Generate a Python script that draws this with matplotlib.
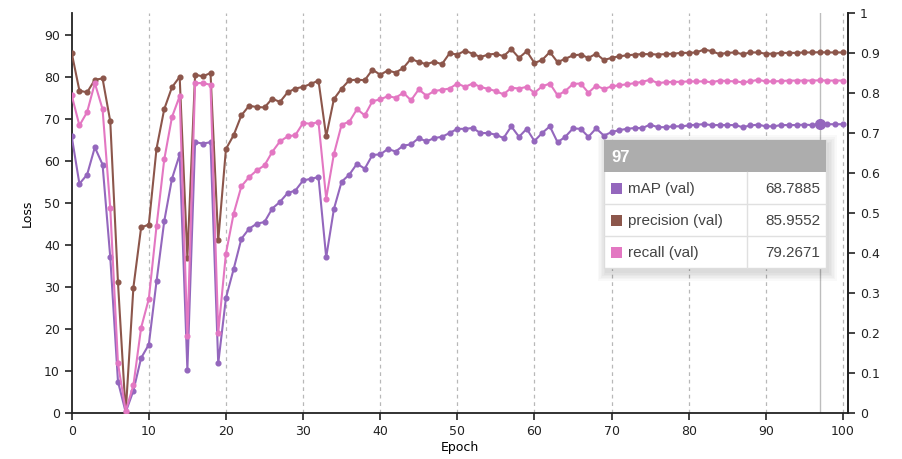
import matplotlib.pyplot as plt
from matplotlib.patches import Rectangle
import numpy as np

# values (epochs 0..100)
epochs = list(range(101))
map_val = [65.9, 54.6, 56.8, 63.3, 59.2, 37.1, 7.5, 0.2, 5.3, 13.1,
           16.3, 31.4, 45.7, 55.8, 61.6, 10.3, 64.5, 64.2, 64.5, 11.8,
           27.4, 34.3, 41.5, 43.9, 45.1, 45.5, 48.7, 50.3, 52.4, 53.0,
           55.4, 55.8, 56.2, 37.1, 48.6, 55.1, 56.8, 59.4, 58.2, 61.5,
           61.6, 62.9, 62.3, 63.7, 64.0, 65.5, 64.7, 65.5, 65.8, 66.7,
           67.7, 67.7, 67.9, 66.7, 66.7, 66.3, 65.5, 68.3, 65.8, 67.7,
           64.8, 66.7, 68.3, 64.5, 65.8, 67.8, 67.7, 65.8, 67.8, 66.1,
           66.9, 67.4, 67.7, 67.9, 67.9, 68.7, 68.1, 68.1, 68.3, 68.3,
           68.5, 68.7, 68.8, 68.6, 68.6, 68.6, 68.6, 68.1, 68.5, 68.7,
           68.3, 68.3, 68.6, 68.6, 68.6, 68.7, 68.6, 68.7885, 68.8, 68.8,
           68.8]
precision_val = [85.8, 76.8, 76.4, 79.4, 79.7, 69.5, 31.1, 0.0, 29.9, 44.2,
                 44.9, 63.0, 72.4, 77.6, 80.1, 36.9, 80.6, 80.2, 81.0, 41.1,
                 62.9, 66.2, 70.9, 73.2, 72.9, 72.8, 74.9, 74.1, 76.4, 77.3,
                 77.7, 78.4, 79.2, 65.9, 74.8, 77.3, 79.3, 79.4, 79.3, 81.8,
                 80.6, 81.6, 81.1, 82.2, 84.4, 83.6, 83.1, 83.7, 83.1, 85.7,
                 85.4, 86.3, 85.6, 84.8, 85.4, 85.6, 85.0, 86.7, 84.6, 86.2,
                 83.4, 84.1, 86.0, 83.6, 84.4, 85.2, 85.4, 84.6, 85.6, 84.1,
                 84.6, 85.0, 85.2, 85.4, 85.5, 85.5, 85.4, 85.5, 85.6, 85.8,
                 85.8, 85.9, 86.6, 86.2, 85.5, 85.8, 85.9, 85.5, 85.9, 85.9,
                 85.6, 85.6, 85.8, 85.8, 85.8, 85.9, 85.9, 85.9552, 85.9, 85.9,
                 85.9]
recall_val = [75.7, 68.5, 71.7, 78.6, 72.4, 48.8, 11.8, 0.5, 6.6, 20.3,
              27.2, 44.5, 60.4, 70.5, 75.5, 18.3, 78.6, 78.6, 78.2, 19.1,
              38.0, 47.5, 54.0, 56.2, 57.8, 59.0, 62.2, 64.7, 65.9, 66.2,
              69.1, 68.9, 69.3, 51.1, 61.7, 68.7, 69.4, 72.4, 70.9, 74.3,
              74.7, 75.5, 75.1, 76.3, 74.5, 77.1, 75.6, 76.7, 77.0, 77.3,
              78.5, 77.7, 78.5, 77.7, 77.2, 76.7, 75.9, 77.5, 77.3, 77.7,
              76.3, 77.8, 78.5, 75.7, 76.7, 78.4, 78.5, 76.3, 78.0, 77.2,
              77.8, 78.1, 78.3, 78.6, 78.9, 79.4, 78.6, 78.8, 78.9, 78.9,
              79.0, 79.0, 79.0, 78.8, 79.2, 79.1, 79.0, 78.8, 79.0, 79.4,
              79.0, 79.0, 79.1, 79.2, 79.2, 79.2, 79.2, 79.2671, 79.2, 79.2,
              79.2]

series_names = ['mAP (val)', 'precision (val)', 'recall (val)']
series_colors = ['#9467bd', '#8c564b', '#e377c2']
hover_epoch = 97

W, H = 902, 459
fig = plt.figure(figsize=(W / 100, H / 100), dpi=100)
ax = fig.add_axes([71.7 / W, (H - 413) / H, (848.3 - 71.7) / W, 400 / H])

for vals, c in zip([map_val, precision_val, recall_val], series_colors):
    ax.plot(epochs, vals, color=c, lw=1.5, marker='o', ms=3.4, zorder=3)

ax.set_xlim(0, 100.7)
ax.set_ylim(0, 95.3)
ax.set_xticks(range(0, 101, 10))
ax.set_yticks(range(0, 91, 10))
for x in range(10, 101, 10):
    ax.axvline(x, color='#b8b8b8', lw=0.9, ls=(0, (3, 3)), zorder=1)
ax.axvline(hover_epoch, color='#bdbdbd', lw=1.0, zorder=2)
ax.plot([hover_epoch], [map_val[hover_epoch]], 'o', color=series_colors[0],
        ms=7, zorder=4)

ax.spines['top'].set_visible(False)
for s in ['left', 'bottom', 'right']:
    ax.spines[s].set_linewidth(1.3)
    ax.spines[s].set_color('#222222')
ax.tick_params(labelsize=9, length=5, width=1.2, colors='#222222')
ax.set_xlabel('Epoch', fontsize=9, labelpad=2)
ax.set_ylabel('Loss', fontsize=9, labelpad=7)

ax2 = ax.twinx()
ax2.set_ylim(0, 1)
ax2.set_yticks(np.arange(0, 1.01, 0.1))
ax2.set_yticklabels(['0', '0.1', '0.2', '0.3', '0.4', '0.5', '0.6', '0.7',
                     '0.8', '0.9', '1'])
ax2.tick_params(labelsize=9, length=5, width=1.2, colors='#222222')
for s in ['top', 'left', 'bottom']:
    ax2.spines[s].set_visible(False)
ax2.spines['right'].set_linewidth(1.3)
ax2.spines['right'].set_color('#222222')


# tooltip, in figure pixels (top-left origin)
def fbox(x0, y0, x1, y1, **kw):
    r = Rectangle((x0 / W, (H - y1) / H), (x1 - x0) / W, (y1 - y0) / H,
                  transform=fig.transFigure, **kw)
    fig.add_artist(r)


def ftext(x, y, s, **kw):
    fig.text(x / W, (H - y) / H, s, va='center', family='Liberation Sans', **kw)


tx0, tx1, ty0 = 604, 826, 140
head_h, row_h, col_x = 32, 32, 747
ty1 = ty0 + head_h + 3 * row_h
for i in range(6):
    d = 1 + i * 1.5
    fbox(tx0 - d + 2, ty0 - d + 4, tx1 + d + 2, ty1 + d + 4,
         facecolor='black', edgecolor='none', alpha=0.022, zorder=10)
fbox(tx0, ty0, tx1, ty1, facecolor='white', edgecolor='#dddddd', lw=1, zorder=11)
fbox(tx0, ty0, tx1, ty0 + head_h, facecolor='#adadad', edgecolor='none', zorder=12)
ftext(tx0 + 7, ty0 + head_h / 2 + 1, str(hover_epoch), color='white',
      fontsize=12, fontweight='bold', zorder=13)
hover_vals = [map_val[hover_epoch], precision_val[hover_epoch],
              recall_val[hover_epoch]]
for i, (name, c, v) in enumerate(zip(series_names, series_colors, hover_vals)):
    y0 = ty0 + head_h + i * row_h
    if i > 0:
        fig.add_artist(plt.Line2D([tx0 / W, tx1 / W], [(H - y0) / H] * 2,
                                  transform=fig.transFigure, color='#e0e0e0',
                                  lw=1, zorder=13))
    fbox(tx0 + 7, y0 + 11, tx0 + 18, y0 + 22, facecolor=c, edgecolor='none',
         zorder=13)
    ftext(tx0 + 24, y0 + row_h / 2 + 1, name, color='#444444', fontsize=11,
          zorder=13)
    ftext(tx1 - 6, y0 + row_h / 2 + 1, '%.4f' % v, color='#444444',
          fontsize=11, ha='right', zorder=13)
fig.add_artist(plt.Line2D([col_x / W] * 2, [(H - ty1) / H, (H - ty0 - head_h) / H],
                          transform=fig.transFigure, color='#e0e0e0', lw=1,
                          zorder=13))

fig.savefig('out.png', dpi=100)
